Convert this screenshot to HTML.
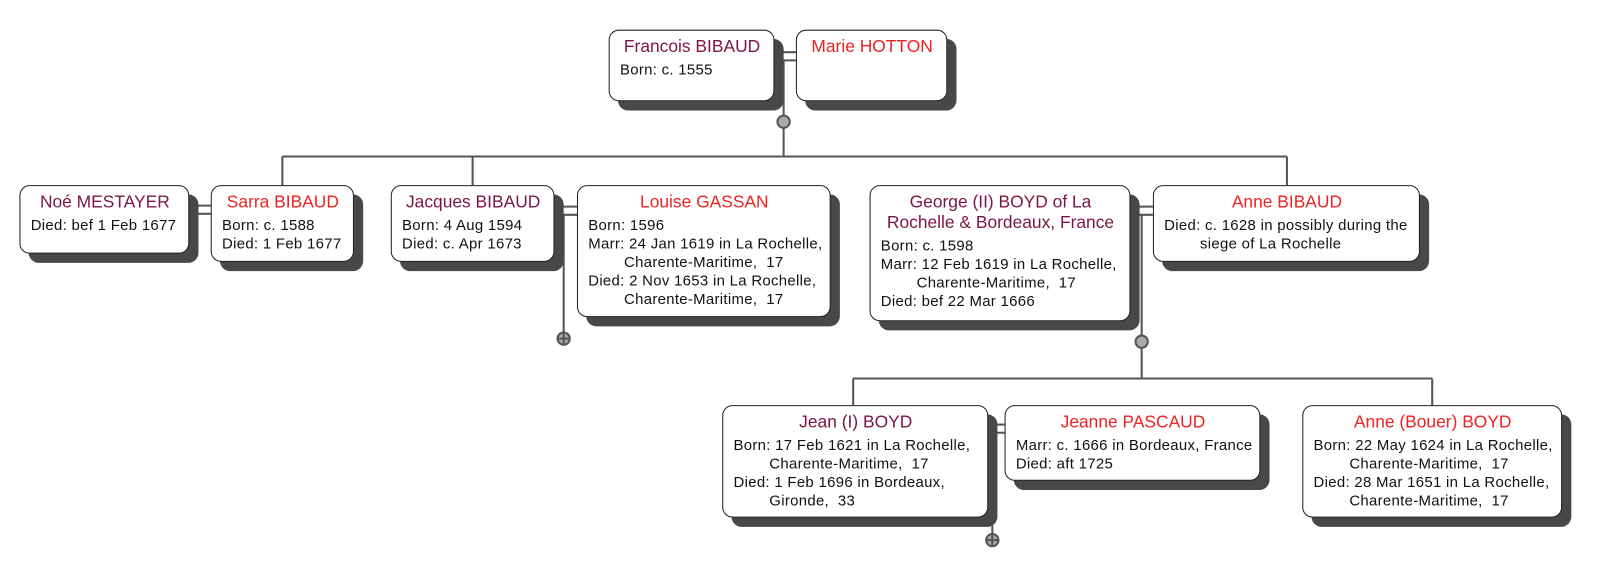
<!DOCTYPE html>
<html><head><meta charset="utf-8"><style>
html,body{margin:0;padding:0;background:#fff;width:1604px;height:573px;overflow:hidden}
#c{position:absolute;left:0;top:0;width:1568px;height:560px;transform:scale(1.023);transform-origin:0 0;font-family:"Liberation Sans",sans-serif}
.b{position:absolute;box-sizing:border-box;background:#fff;border:1px solid #222;border-radius:10px;box-shadow:9px 9px 0 #484848;padding:6px 9px 0 10px}
.n{font-size:17px;line-height:20px;text-align:center;white-space:nowrap}
.m{color:#7b1545}.f{color:#ee2222}
.d{font-size:14.6px;line-height:18px;color:#111;padding-left:35px;text-indent:-35px;white-space:nowrap;letter-spacing:0.3px}
.n+.d{margin-top:4px}
svg{position:absolute;left:0;top:0}
</style></head><body><div id="c">
<svg width="1568" height="560" stroke="#555" stroke-width="2" fill="none">
<path d="M757 51H778M757 59H778M766 59V153M276 153H1258M276 153V181M462 153V181M1258 153V181"/>
<path d="M185 201H206M185 209H206"/>
<path d="M542 202H564M542 210H564M551 210V325"/>
<path d="M1105 202H1127M1105 210H1127M1116 210V370M834 370H1400M834 370V396M1400 370V396"/>
<path d="M966 415H982M966 423H982M970 423V522"/>
<circle cx="766" cy="119" r="6" fill="#aaa"/>
<circle cx="1116" cy="334" r="6" fill="#aaa"/>
<circle cx="551" cy="331" r="6" fill="#aaa"/><path d="M545 331H557M551 325V337"/>
<circle cx="970" cy="528" r="6" fill="#aaa"/><path d="M964 528H976M970 522V534"/>
</svg>
<div class="b" style="left:595px;top:29px;width:162px;height:70px"><div class="n m">Francois BIBAUD</div><div class="d">Born: c. 1555</div></div>
<div class="b" style="left:778px;top:29px;width:148px;height:70px"><div class="n f">Marie HOTTON</div></div>
<div class="b" style="left:19px;top:181px;width:166px;height:67px"><div class="n m">Noé MESTAYER</div><div class="d">Died: bef 1 Feb 1677</div></div>
<div class="b" style="left:206px;top:181px;width:140px;height:75px"><div class="n f">Sarra BIBAUD</div><div class="d">Born: c. 1588</div><div class="d">Died: 1 Feb 1677</div></div>
<div class="b" style="left:382px;top:181px;width:160px;height:75px"><div class="n m">Jacques BIBAUD</div><div class="d">Born: 4 Aug 1594</div><div class="d">Died: c. Apr 1673</div></div>
<div class="b" style="left:564px;top:181px;width:248px;height:129px"><div class="n f">Louise GASSAN</div><div class="d">Born: 1596</div><div class="d">Marr: 24 Jan 1619 in La Rochelle,<br>Charente-Maritime,&nbsp; 17</div><div class="d">Died: 2 Nov 1653 in La Rochelle,<br>Charente-Maritime,&nbsp; 17</div></div>
<div class="b" style="left:850px;top:181px;width:255px;height:133px"><div class="n m">George (II) BOYD of La<br>Rochelle &amp; Bordeaux, France</div><div class="d">Born: c. 1598</div><div class="d">Marr: 12 Feb 1619 in La Rochelle,<br>Charente-Maritime,&nbsp; 17</div><div class="d">Died: bef 22 Mar 1666</div></div>
<div class="b" style="left:1127px;top:181px;width:261px;height:75px"><div class="n f">Anne BIBAUD</div><div class="d">Died: c. 1628 in possibly during the<br>siege of La Rochelle</div></div>
<div class="b" style="left:706px;top:396px;width:260px;height:110px"><div class="n m">Jean (I) BOYD</div><div class="d">Born: 17 Feb 1621 in La Rochelle,<br>Charente-Maritime,&nbsp; 17</div><div class="d">Died: 1 Feb 1696 in Bordeaux,<br>Gironde,&nbsp; 33</div></div>
<div class="b" style="left:982px;top:396px;width:250px;height:74px"><div class="n f">Jeanne PASCAUD</div><div class="d">Marr: c. 1666 in Bordeaux, France</div><div class="d">Died: aft 1725</div></div>
<div class="b" style="left:1273px;top:396px;width:254px;height:110px"><div class="n f">Anne (Bouer) BOYD</div><div class="d">Born: 22 May 1624 in La Rochelle,<br>Charente-Maritime,&nbsp; 17</div><div class="d">Died: 28 Mar 1651 in La Rochelle,<br>Charente-Maritime,&nbsp; 17</div></div>
</div></body></html>
